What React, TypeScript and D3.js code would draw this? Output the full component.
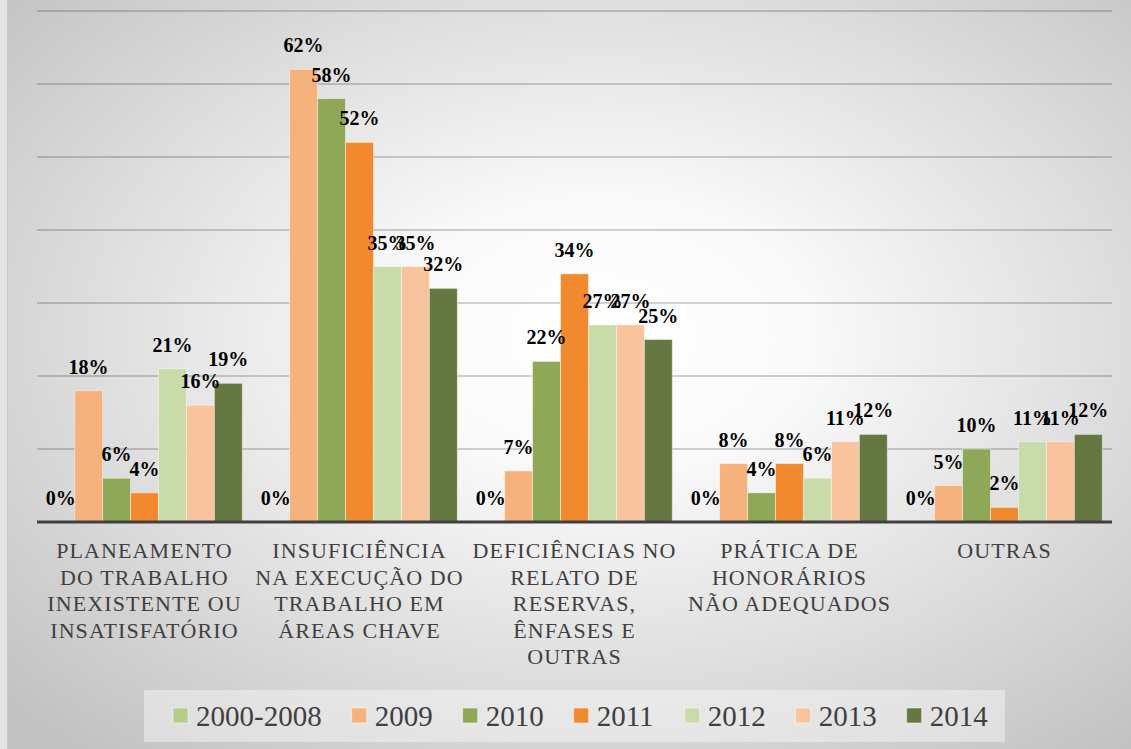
import React from "react";
import * as d3 from "d3";

const categories: string[][] = [
  ["PLANEAMENTO", "DO TRABALHO", "INEXISTENTE OU", "INSATISFATÓRIO"],
  ["INSUFICIÊNCIA", "NA EXECUÇÃO DO", "TRABALHO EM", "ÁREAS CHAVE"],
  ["DEFICIÊNCIAS NO", "RELATO DE", "RESERVAS,", "ÊNFASES E", "OUTRAS"],
  ["PRÁTICA DE", "HONORÁRIOS", "NÃO ADEQUADOS"],
  ["OUTRAS"],
];
const series = ["2000-2008", "2009", "2010", "2011", "2012", "2013", "2014"];
const colors = ["#b5cd8c", "#f6b27c", "#8ea857", "#f18a2f", "#c9dba9", "#f7c49d", "#657842"];
const s2000_2008 = [0, 0, 0, 0, 0];
const s2009 = [18, 62, 7, 8, 5];
const s2010 = [6, 58, 22, 4, 10];
const s2011 = [4, 52, 34, 8, 2];
const s2012 = [21, 35, 27, 6, 11];
const s2013 = [16, 35, 27, 11, 11];
const s2014 = [19, 32, 25, 12, 12];
const seriesValues = [s2000_2008, s2009, s2010, s2011, s2012, s2013, s2014];
const gridTicks = [10, 20, 30, 40, 50, 60, 70];

const W = 1131;
const H = 749;
const left = 37;
const right = 1112;
const baseY = 522;
const topY = 11;
const SERIF = "'Liberation Serif', 'DejaVu Serif', 'Noto Serif', Tinos, 'Times New Roman', Times, serif";

export default function App() {
  const catIdx = categories.map((_, i) => String(i));
  const x0 = d3.scaleBand<string>().domain(catIdx).range([left, right]).paddingInner(0.09).paddingOuter(0.045);
  const x1 = d3.scaleBand<string>().domain(series).range([0, x0.bandwidth()]).padding(0);
  const y = d3.scaleLinear().domain([0, 70]).range([baseY, topY]);

  const legendFont = 29;
  const charW = (s: string) => s.split("").reduce((a, c) => a + (c === "-" ? 0.333 : 0.5), 0) * legendFont;
  let lx = 173;
  const legendItems = series.map((s, i) => {
    const item = { s, x: lx, color: colors[i] };
    lx += 16 + 7 + charW(s) + 30;
    return item;
  });

  return (
    <svg width={W} height={H} style={{ position: "fixed", left: 0, top: 0, fontFamily: SERIF }} xmlns="http://www.w3.org/2000/svg">
      <defs>
        <radialGradient id="bg" cx="0.53" cy="0.45" r="0.72">
          <stop offset="0" stopColor="#ffffff" />
          <stop offset="0.25" stopColor="#fafafa" />
          <stop offset="1" stopColor="#c2c2c2" />
        </radialGradient>
      </defs>
      <rect x={0} y={0} width={W} height={H} fill="#e4e4e4" />
      <rect x={7} y={0} width={W - 7} height={H} fill="url(#bg)" />
      <line x1={7.5} x2={7.5} y1={0} y2={H} stroke="#c8c8c8" strokeWidth={1} />
      {gridTicks.map((t) => (
        <line key={t} x1={left} x2={right} y1={y(t)} y2={y(t)} stroke="#000" strokeOpacity={0.24} strokeWidth={1.3} />
      ))}
      {catIdx.map((c, ci) => (
        <g key={c} transform={`translate(${x0(c)},0)`}>
          {series.map((s, si) => {
            const v = seriesValues[si][ci];
            return (
              <rect
                key={s}
                x={x1(s)}
                y={y(v)}
                width={x1.bandwidth()}
                height={baseY - y(v)}
                fill={colors[si]}
                stroke="#ffffff"
                strokeOpacity={0.45}
                strokeWidth={1}
              />
            );
          })}
        </g>
      ))}
      <line x1={left} x2={right} y1={baseY} y2={baseY} stroke="#404040" strokeWidth={3} />
      {catIdx.map((c, ci) => (
        <g key={"l" + c}>
          {series.map((s, si) => {
            const v = seriesValues[si][ci];
            return (
              <text
                key={s}
                x={(x0(c) as number) + (x1(s) as number) + x1.bandwidth() / 2}
                y={y(v) - 17}
                textAnchor="middle"
                style={{ fontFamily: SERIF, fontWeight: "bold", fontSize: "20px" }}
                fill="#000"
              >
                {v + "%"}
              </text>
            );
          })}
        </g>
      ))}
      {categories.map((lines, ci) => (
        <text
          key={"c" + ci}
          textAnchor="middle"
          style={{ fontFamily: SERIF, fontSize: "22px", letterSpacing: "1.1px" }}
          fill="#404040"
        >
          {lines.map((ln, li) => (
            <tspan key={li} x={(x0(String(ci)) as number) + x0.bandwidth() / 2} y={558 + li * 26.5}>
              {ln}
            </tspan>
          ))}
        </text>
      ))}
      <rect x={144} y={690} width={861} height={52} fill="#ffffff" fillOpacity={0.4} />
      {legendItems.map((it) => (
        <g key={it.s}>
          <rect x={it.x} y={708} width={15} height={15} fill={it.color} stroke="#ffffff" strokeOpacity={0.5} strokeWidth={1} />
          <text x={it.x + 23} y={726} style={{ fontFamily: SERIF, fontSize: legendFont + "px" }} fill="#404040">
            {it.s}
          </text>
        </g>
      ))}
    </svg>
  );
}
